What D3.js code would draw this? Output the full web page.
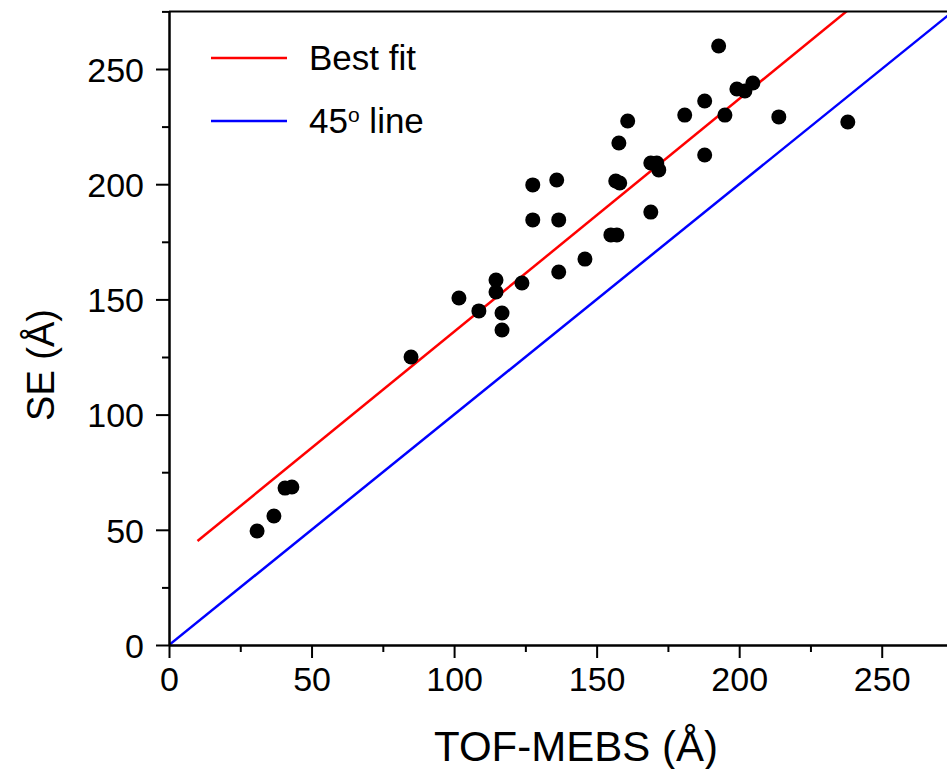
<!DOCTYPE html>
<html>
<head>
<meta charset="utf-8">
<script src="https://cdn.jsdelivr.net/npm/d3@7"></script>
<style>
  body { margin: 0; background: #fff; }
  svg { display: block; font-family: "Liberation Sans", Arial, sans-serif; }
</style>
</head>
<body>
<svg width="947" height="769"></svg>
<script>
// values
const tofMebs = [30.9, 36.8, 40.7, 43.1, 84.9, 101.7, 108.7, 114.7, 114.7, 116.8,
                 116.8, 123.8, 127.6, 127.6, 136.0, 136.7, 136.7, 145.9, 155.0, 157.1,
                 156.7, 158.1, 157.8, 160.9, 169.0, 169.0, 171.1, 171.8, 180.9, 187.9,
                 187.9, 192.8, 195.0, 199.2, 202.0, 204.8, 213.9, 238.1];
const se = [49.5, 56.0, 68.1, 68.6, 125.0, 150.6, 145.0, 158.4, 153.2, 144.1,
            136.7, 157.1, 184.5, 199.7, 201.8, 184.5, 161.9, 167.5, 178.0, 178.0,
            201.4, 200.5, 217.9, 227.4, 187.9, 209.2, 209.2, 206.2, 230.0, 236.1,
            212.7, 260.0, 230.0, 241.3, 240.5, 243.9, 229.2, 227.0];
const fitSlope = 1.01;
const fitIntercept = 35;
const fitRange = [10, 275];
const majorTicks = [0, 50, 100, 150, 200, 250];
const minorTicks = [25, 75, 125, 175, 225, 275];
const legendItems = [
  {label: 'Best fit', color: '#ff0000'},
  {label: '45', sup: 'o', after: ' line', color: '#0000ff'}
];

const svg = d3.select('svg');

const x = d3.scaleLinear().domain([0, 275]).range([169, 953]);
const y = d3.scaleLinear().domain([0, 275]).range([645, 11.4]);

svg.append('clipPath').attr('id', 'plot')
   .append('rect')
   .attr('x', x(0)).attr('y', y(275))
   .attr('width', x(275) - x(0)).attr('height', y(0) - y(275));

const plot = svg.append('g').attr('clip-path', 'url(#plot)');

const line = d3.line().x(d => x(d[0])).y(d => y(d[1]));

// 45 degree line
plot.append('path')
    .attr('d', line([[0, 0], [275, 275]]))
    .attr('stroke', '#0000ff').attr('stroke-width', 2.5).attr('fill', 'none');

// best fit
plot.append('path')
    .attr('d', line(fitRange.map(v => [v, fitSlope * v + fitIntercept])))
    .attr('stroke', '#ff0000').attr('stroke-width', 2.5).attr('fill', 'none');

plot.selectAll('circle')
    .data(tofMebs.map((v, i) => [v, se[i]]))
    .join('circle')
    .attr('cx', d => x(d[0]))
    .attr('cy', d => y(d[1]))
    .attr('r', 7.5)
    .attr('fill', '#000');

// axes
const xAxis = svg.append('g').attr('transform', `translate(0,${y(0)})`)
    .call(d3.axisBottom(x).tickValues(majorTicks).tickSize(13).tickPadding(9).tickSizeOuter(0));
svg.append('g').attr('transform', `translate(0,${y(0)})`)
    .call(d3.axisBottom(x).tickValues(minorTicks).tickSize(7).tickFormat('').tickSizeOuter(0));
const yAxis = svg.append('g').attr('transform', `translate(${x(0)},0)`)
    .call(d3.axisLeft(y).tickValues(majorTicks).tickSize(13).tickPadding(12).tickSizeOuter(0));
svg.append('g').attr('transform', `translate(${x(0)},0)`)
    .call(d3.axisLeft(y).tickValues(minorTicks).tickSize(7).tickFormat('').tickSizeOuter(0));

svg.selectAll('.domain').attr('stroke', '#000').attr('stroke-width', 2);
svg.selectAll('.tick line').attr('stroke', '#000').attr('stroke-width', 2);
xAxis.selectAll('text').attr('font-size', 34).attr('fill', '#000')
     .attr('font-family', '"Liberation Sans", Arial, sans-serif');
yAxis.selectAll('text').attr('font-size', 34).attr('fill', '#000').attr('dy', '0.36em')
     .attr('font-family', '"Liberation Sans", Arial, sans-serif');

// top frame
svg.append('line')
   .attr('x1', x(0)).attr('x2', x(275)).attr('y1', y(275)).attr('y2', y(275))
   .attr('stroke', '#000').attr('stroke-width', 2);

// axis titles
svg.append('text')
   .attr('x', 576).attr('y', 761)
   .attr('text-anchor', 'middle').attr('font-size', 42)
   .text('TOF-MEBS (Å)');
svg.append('text')
   .attr('transform', 'translate(54,365) rotate(-90)')
   .attr('text-anchor', 'middle').attr('font-size', 38)
   .text('SE (Å)');

// legend
const legend = svg.selectAll('.legend')
    .data(legendItems)
    .join('g')
    .attr('class', 'legend')
    .attr('transform', (d, i) => `translate(211,${58 + i * 63})`);
legend.append('line')
    .attr('x1', 0).attr('x2', 76)
    .attr('stroke', d => d.color).attr('stroke-width', 2.5);
legend.append('text')
    .attr('x', 98).attr('y', 12)
    .attr('font-size', 35)
    .each(function(d) {
      const t = d3.select(this);
      t.append('tspan').text(d.label);
      if (d.sup) {
        t.append('tspan').attr('font-size', 21).attr('dy', -11).text(d.sup);
        t.append('tspan').attr('dy', 11).text(d.after);
      }
    });
</script>
</body>
</html>
